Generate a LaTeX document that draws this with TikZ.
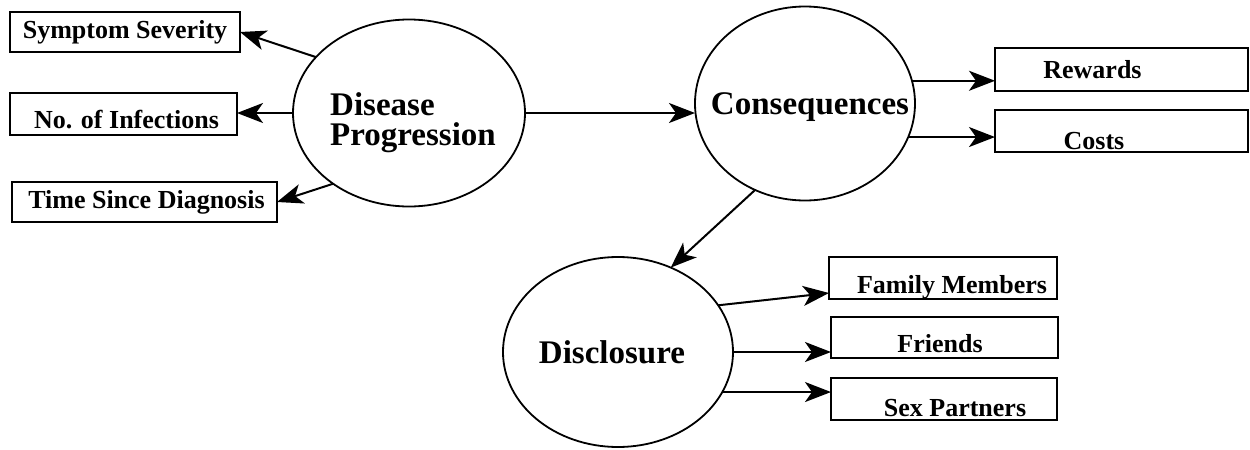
\documentclass[tikz,border=0pt]{standalone}
\usepackage{fontspec}
\setmainfont{Liberation Serif}
\usetikzlibrary{arrows.meta,shapes.geometric,calc}
\begin{document}
\begin{tikzpicture}[x=0.5pt,y=-0.5pt,
  box/.style={draw,line width=1.3pt,rectangle,inner sep=0pt,outer sep=0pt},
  ell/.style={draw,line width=0.9pt,ellipse,inner sep=0pt,outer sep=0pt},
  bt/.style={font=\fontsize{13}{15}\selectfont\bfseries,inner sep=0pt},
  et/.style={font=\fontsize{16.5}{15}\selectfont\bfseries,inner sep=0pt,align=left},
  arr/.style={-{Stealth[length=13pt,width=10pt,inset=3.5pt]},line width=1pt}]
\useasboundingbox (0,0) rectangle (1250,450);
% boxes (left)
\node[box,minimum width=115pt,minimum height=20pt,label={[bt]center:Symptom Severity}] (sym) at (125,32) {};
\node[box,minimum width=113.5pt,minimum height=21pt,label={[bt,xshift=1.5pt,yshift=-3pt]center:No. of Infections}] (inf) at (123.5,114) {};
\node[box,minimum width=132.5pt,minimum height=20pt,label={[bt,xshift=1pt]center:Time Since Diagnosis}] (time) at (144.5,202) {};
% boxes (right)
\node[box,minimum width=126.5pt,minimum height=21.5pt,label={[bt,xshift=-14.5pt]center:Rewards}] (rew) at (1121.5,69.5) {};
\node[box,minimum width=126.5pt,minimum height=21pt,label={[bt,xshift=-13.75pt,yshift=-5pt]center:Costs}] (cost) at (1121.5,131) {};
\node[box,minimum width=114pt,minimum height=21pt,label={[bt,xshift=4.5pt,yshift=-4.5pt]center:Family Members}] (fam) at (943,278) {};
\node[box,minimum width=113.5pt,minimum height=20.5pt,label={[bt,xshift=-2.25pt,yshift=-3pt]center:Friends}] (fri) at (944.5,337.5) {};
\node[box,minimum width=113pt,minimum height=21pt,label={[bt,xshift=5.5pt,yshift=-4.75pt]center:Sex Partners}] (sex) at (944,399) {};
% ellipses
\node[ell,minimum width=116pt,minimum height=93.5pt,label={[et,xshift=2pt,yshift=-5pt]center:Disease\\Progression}] (dp) at (409,113) {};
\node[ell,minimum width=110pt,minimum height=97pt,label={[et,xshift=2.5pt,yshift=-2pt]center:Consequences}] (cons) at (805,103.5) {};
\node[ell,minimum width=115pt,minimum height=95pt,label={[et,xshift=-3pt]center:Disclosure}] (disc) at (618,352) {};
% connectors
\draw[arr] (dp.149) -- (sym.east);
\draw[arr] (dp.west) -- (dp.west -| inf.east);
\draw[arr] (dp.223) -- (time.east);
\draw[arr] (dp.east) -- (dp.east -| cons.west);
\draw[arr] (cons.12) -- (cons.12 -| rew.west);
\draw[arr] (cons.-18.5) -- (cons.-18.5 -| cost.west);
\draw[arr] (cons.240) -- (disc.58);
\draw[arr] (disc.25) -- ($(fam.south west)+(0,-6)$);
\draw[arr] (disc.east) -- (disc.east -| fri.west);
\draw[arr] (disc.-21.6) -- (disc.-21.6 -| sex.west);
\end{tikzpicture}
\end{document}
